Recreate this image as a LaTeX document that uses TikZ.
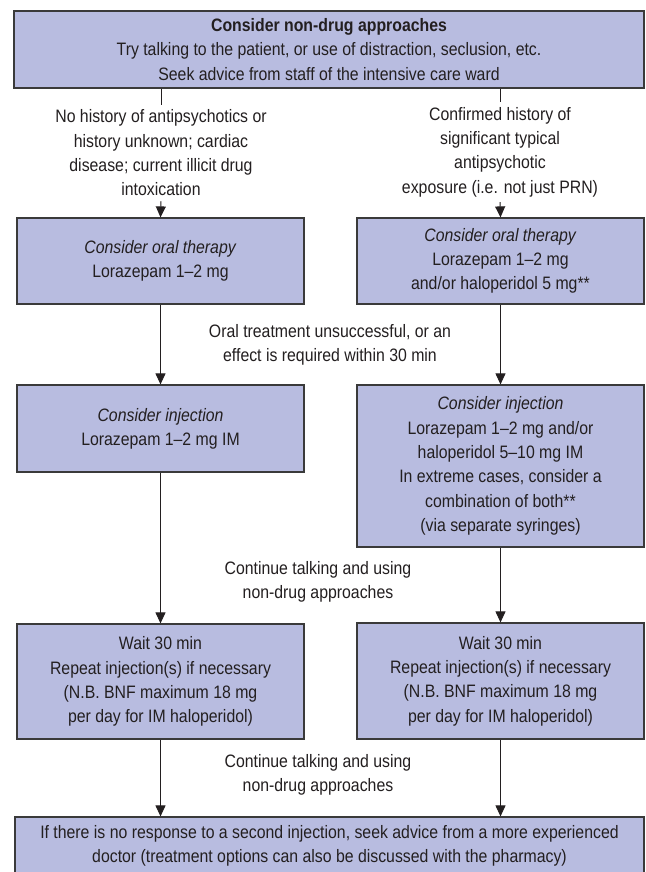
\documentclass[tikz,border=0pt]{standalone}
\usepackage{fontspec}
\setmainfont{Liberation Sans}[FakeStretch=0.88]
\usetikzlibrary{arrows.meta}
\definecolor{boxfill}{HTML}{B8BCE0}
\definecolor{ink}{HTML}{231F20}
\definecolor{edge}{HTML}{3A3A3A}
\newcommand\diagfont{\fontsize{18}{24.3}\selectfont}
\begin{document}
\begin{tikzpicture}[x=1pt,y=-1pt,
  box/.style={draw=edge, line width=1.2pt, fill=boxfill, align=center, inner sep=0pt, text=ink, font=\diagfont},
  lab/.style={align=center, text=ink, font=\diagfont, inner xsep=0pt, inner ysep=5pt},
  conn/.style={draw=ink, line width=1pt},
  arr/.style={conn, -{Triangle[width=10pt,length=11pt]}}]
\useasboundingbox (0,0) rectangle (645,872);
\clip (0,0) rectangle (645,872);
\fill[white] (0,0) rectangle (645,872);

\node[box, minimum width=630pt, minimum height=77pt] (top) at (329,49.5)
  {\textbf{Consider non-drug approaches}\\Try talking to the patient, or use of distraction, seclusion, etc.\\Seek advice from staff of the intensive care ward};

\node[lab] (lab1) at (161,153) {No history of antipsychotics or\\history unknown; cardiac\\disease; current illicit drug\\intoxication};
\node[lab] (lab2) at (500,152) {Confirmed history of\\significant typical\\antipsychotic\\exposure (i.e. not just PRN)};

\node[box, minimum width=287pt, minimum height=86pt] (L2) at (160.5,261)
  {\textit{Consider oral therapy}\\Lorazepam 1–2 mg};
\node[box, minimum width=287pt, minimum height=86pt] (R2) at (500.5,261)
  {\textit{Consider oral therapy}\\Lorazepam 1–2 mg\\and/or haloperidol 5 mg**};

\node[lab] (lab3) at (330,345) {Oral treatment unsuccessful, or an\\effect is required within 30 min};

\node[box, minimum width=287pt, minimum height=87pt] (L3) at (160.5,428.5)
  {\textit{Consider injection}\\Lorazepam 1–2 mg IM};
\node[box, minimum width=287pt, minimum height=162pt] (R3) at (500.5,466)
  {\textit{Consider injection}\\Lorazepam 1–2 mg and/or\\haloperidol 5–10 mg IM\\In extreme cases, consider a\\combination of both**\\(via separate syringes)};

\node[lab] (lab4) at (318,582) {Continue talking and using\\non-drug approaches};

\node[box, minimum width=287pt, minimum height=115pt] (L4) at (160.5,681.5)
  {Wait 30 min\\Repeat injection(s) if necessary\\(N.B. BNF maximum 18 mg\\per day for IM haloperidol)};
\node[box, minimum width=287pt, minimum height=116pt] (R4) at (500.5,681)
  {Wait 30 min\\Repeat injection(s) if necessary\\(N.B. BNF maximum 18 mg\\per day for IM haloperidol)};

\node[lab] (lab5) at (318,775) {Continue talking and using\\non-drug approaches};

\node[box, minimum width=629pt, minimum height=58pt] (bot) at (329.5,846)
  {If there is no response to a second injection, seek advice from a more experienced\\doctor (treatment options can also be discussed with the pharmacy)};

\draw[conn] (top.south -| lab1) -- (lab1.north);
\draw[conn] (top.south -| lab2) -- (lab2.north);
\draw[arr] (lab1.south) -- (L2.north);
\draw[arr] (lab2.south) -- (R2.north);
\draw[arr] (L2) -- (L3);
\draw[arr] (R2) -- (R3);
\draw[arr] (L3) -- (L4);
\draw[arr] (R3) -- (R4);
\draw[arr] (L4.south) -- (L4.south |- bot.north);
\draw[arr] (R4.south) -- (R4.south |- bot.north);
\end{tikzpicture}
\end{document}
